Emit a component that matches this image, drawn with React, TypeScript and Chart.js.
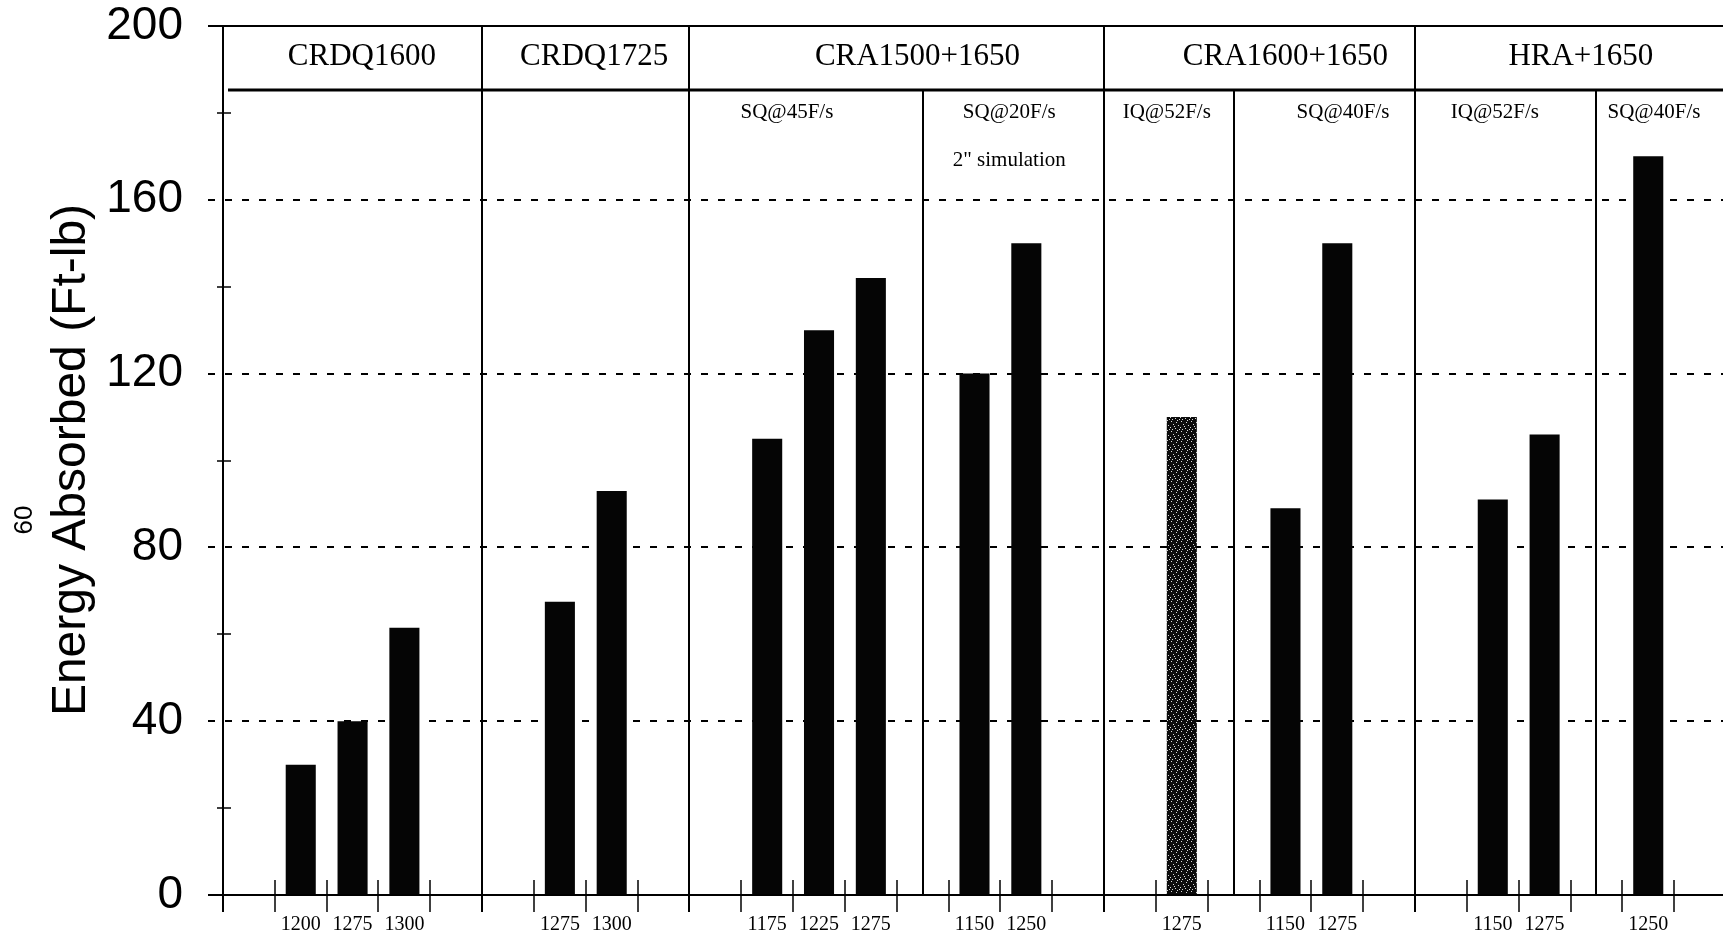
import { useEffect, useRef } from 'react';
import { Chart, registerables } from 'chart.js';

Chart.register(...registerables);

// One category per tick interval along the bottom axis; empty strings are spacer slots.
const slotLabels = [
  '', '1200', '1275', '1300', '',
  '', '1275', '1300', '',
  '', '1175', '1225', '1275', '', '1150', '1250', '',
  '', '1275', '', '1150', '1275', '',
  '', '1150', '1275', '', '1250', '',
];

// Energy absorbed (Ft-lb) for each slot; null where no bar is drawn.
const energyValues = [
  null, 30, 40, 61.5, null,
  null, 67.5, 93, null,
  null, 105, 130, 142, null, 120, 150, null,
  null, 110, null, 89, 150, null,
  null, 91, 106, null, 170, null,
];

// Slots whose bar is printed with a stippled (grey-dotted) fill.
const stippledSlots = [18];

// Steel grades heading each block of slots.
const groupNames = ['CRDQ1600', 'CRDQ1725', 'CRA1500+1650', 'CRA1600+1650', 'HRA+1650'];
const groupStartSlots = [0, 5, 9, 17, 23];
const groupLabelSlots = [2.68, 7.16, 13.4, 20.5, 26.2];

// Quench conditions inside the blocks.
const subSeparatorSlots = [13.5, 19.5, 26.5];
const subLabels = ['SQ@45F/s', 'SQ@20F/s', 'IQ@52F/s', 'SQ@40F/s', 'IQ@52F/s', 'SQ@40F/s'];
const subLabelSlots = [10.88, 15.17, 18.21, 21.61, 24.54, 27.61];
const noteLabel = '2" simulation';
const noteSlot = 15.17;

// Value axis.
const yMin = 0;
const yMax = 200;
const yStep = 40;
const yDashedLines = [40, 80, 120, 160];
const yMinorTicks = [20, 60, 100, 140, 180];
const yTitle = 'Energy Absorbed (Ft-lb)';
const pageMark = '60';

const CANVAS_W = 1760;
const CANVAS_H = 940;
const PLOT_RIGHT = 1726;

const SERIF = '"Liberation Serif", "Times New Roman", serif';
const SANS = '"Liberation Sans", Arial, sans-serif';

function makeStipple(): CanvasPattern | string {
  const c = document.createElement('canvas');
  c.width = 10;
  c.height = 10;
  const g = c.getContext('2d');
  if (!g) return '#2a2a2a';
  g.fillStyle = '#0c0c0c';
  g.fillRect(0, 0, 10, 10);
  g.fillStyle = '#d8d8d8';
  const dots = [
    [1, 1], [6, 2], [3, 4], [8, 5], [0, 7], [5, 8], [9, 9], [2, 9], [7, 0], [4, 6],
  ];
  for (const [dx, dy] of dots) g.fillRect(dx, dy, 1, 1);
  const p = g.createPattern(c, 'repeat');
  return p ?? '#2a2a2a';
}

const framePlugin = {
  id: 'frame',
  beforeDatasetsDraw(chart: any) {
    const { ctx, chartArea: a, scales } = chart;
    const y = scales.y;
    ctx.save();
    ctx.strokeStyle = '#000';
    ctx.lineWidth = 2;
    ctx.setLineDash([7, 10]);
    for (const v of yDashedLines) {
      const py = Math.round(y.getPixelForValue(v));
      ctx.beginPath();
      ctx.moveTo(a.left - 15, py);
      ctx.lineTo(a.right, py);
      ctx.stroke();
    }
    ctx.restore();
  },
  afterDatasetsDraw(chart: any) {
    const { ctx, chartArea: a, scales } = chart;
    const x = scales.x;
    const y = scales.y;
    const edge = (k: number) => x.getPixelForValue(k - 0.5);
    const yTop = Math.round(y.getPixelForValue(yMax));
    const y0 = Math.round(y.getPixelForValue(yMin));
    const headerY = yTop + 64;

    const seg = (x1: number, y1: number, x2: number, y2: number, w: number) => {
      ctx.lineWidth = w;
      ctx.beginPath();
      ctx.moveTo(x1, y1);
      ctx.lineTo(x2, y2);
      ctx.stroke();
    };

    ctx.save();
    ctx.strokeStyle = '#000';
    ctx.setLineDash([]);

    // frame: top rule, base axis, value axis
    seg(a.left - 15, yTop, a.right, yTop, 2);
    seg(a.left - 15, y0, a.right, y0, 2);
    seg(a.left, yTop, a.left, y0 + 17, 2);

    // minor ticks on the value axis
    for (const v of yMinorTicks) {
      const py = Math.round(y.getPixelForValue(v));
      seg(a.left - 6, py, a.left + 8, py, 1.5);
    }

    // slot boundary ticks crossing the base axis
    for (let k = 1; k < slotLabels.length; k++) {
      const px = Math.round(edge(k));
      seg(px, y0 - 15, px, y0 + 17, 1.5);
    }

    // block separators and header rule
    for (const k of groupStartSlots) {
      if (k === 0) continue;
      const px = Math.round(edge(k));
      seg(px, yTop, px, y0 + 17, 2);
    }
    seg(a.left + 5, headerY, a.right, headerY, 3);
    for (const k of subSeparatorSlots) {
      const px = Math.round(edge(k));
      seg(px, headerY, px, y0, 2);
    }

    // header texts
    ctx.fillStyle = '#000';
    ctx.textAlign = 'center';
    ctx.textBaseline = 'alphabetic';
    ctx.font = `31px ${SERIF}`;
    groupNames.forEach((name, i) => {
      ctx.fillText(name, edge(groupLabelSlots[i]), yTop + 39);
    });
    ctx.font = `21px ${SERIF}`;
    subLabels.forEach((name, i) => {
      ctx.fillText(name, edge(subLabelSlots[i]), yTop + 92);
    });
    ctx.fillText(noteLabel, edge(noteSlot), yTop + 140);

    // value axis title
    ctx.save();
    ctx.translate(85, 460);
    ctx.rotate(-Math.PI / 2);
    ctx.font = `48px ${SANS}`;
    ctx.textAlign = 'center';
    ctx.textBaseline = 'alphabetic';
    ctx.fillText(yTitle, 0, 0);
    ctx.restore();

    ctx.save();
    ctx.translate(32, 520);
    ctx.rotate(-Math.PI / 2);
    ctx.font = `26px ${SANS}`;
    ctx.textAlign = 'center';
    ctx.textBaseline = 'alphabetic';
    ctx.fillText(pageMark, 0, 0);
    ctx.restore();

    ctx.restore();
  },
};

export default function App() {
  const canvasRef = useRef<HTMLCanvasElement | null>(null);

  useEffect(() => {
    const canvas = canvasRef.current;
    if (!canvas) return;
    const stipple = makeStipple();
    const colors = energyValues.map((_, i) => (stippledSlots.includes(i) ? stipple : '#050505'));

    const chart = new Chart(canvas, {
      type: 'bar',
      data: {
        labels: slotLabels,
        datasets: [
          {
            label: yTitle,
            data: energyValues as any,
            backgroundColor: colors as any,
            borderWidth: 0,
            barPercentage: 0.58,
            categoryPercentage: 1,
          },
        ],
      },
      options: {
        responsive: false,
        animation: false,
        devicePixelRatio: 1,
        layout: { padding: { left: 0, right: CANVAS_W - PLOT_RIGHT, top: 26, bottom: 0 } },
        plugins: {
          legend: { display: false },
          tooltip: { enabled: false },
        },
        scales: {
          x: {
            type: 'category',
            offset: true,
            grid: { display: false, drawTicks: false },
            border: { display: false },
            ticks: {
              autoSkip: false,
              maxRotation: 0,
              minRotation: 0,
              padding: 20,
              color: '#000',
              font: { family: SERIF, size: 20, lineHeight: 1 },
            },
            afterFit: (s: any) => {
              s.height = 45;
              s.paddingLeft = 0;
              s.paddingRight = 0;
            },
          },
          y: {
            min: yMin,
            max: yMax,
            grid: { display: false, drawTicks: false },
            border: { display: false },
            ticks: {
              stepSize: yStep,
              padding: 40,
              color: '#000',
              font: { family: SANS, size: 46, lineHeight: 1 },
            },
            afterFit: (s: any) => {
              s.width = 223;
              s.paddingTop = 0;
              s.paddingBottom = 0;
            },
          },
        },
      } as any,
      plugins: [framePlugin],
    });
    return () => chart.destroy();
  }, []);

  return (
    <div
      style={{
        position: 'fixed',
        left: 0,
        top: 0,
        width: 1723,
        height: CANVAS_H,
        overflow: 'hidden',
        background: '#fff',
      }}
    >
      <canvas ref={canvasRef} width={CANVAS_W} height={CANVAS_H} style={{ display: 'block' }} />
    </div>
  );
}
